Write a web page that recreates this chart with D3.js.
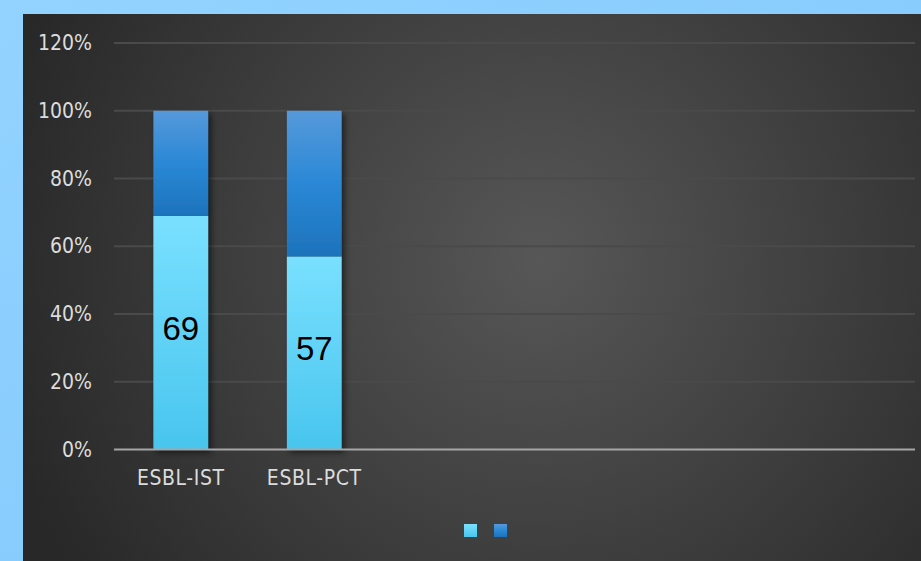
<!DOCTYPE html>
<html>
<head>
<meta charset="utf-8">
<script src="https://cdn.jsdelivr.net/npm/d3@7"></script>
<style>
  html, body { margin: 0; padding: 0; }
  body { width: 921px; height: 561px; overflow: hidden; }
  svg { display: block; }
</style>
</head>
<body>
<svg id="chart"></svg>
<script>
// data
var categories = ["ESBL-IST", "ESBL-PCT", "", "", "", ""];
var series1 = [69, 57, null, null, null, null];   // lower segment (%)
var series2 = [31, 43, null, null, null, null];   // upper segment (%)
var yTicks = [0, 20, 40, 60, 80, 100, 120];

var W = 921, H = 561;
var margin = {top: 43, right: 6, bottom: 111, left: 114};

var svg = d3.select("#chart").attr("width", W).attr("height", H);
var defs = svg.append("defs");

// outer light blue background
var bgOuter = defs.append("linearGradient").attr("id", "bgOuter")
    .attr("x1", 0).attr("y1", 0).attr("x2", 1).attr("y2", 1);
bgOuter.append("stop").attr("offset", 0).attr("stop-color", "#93d3ff");
bgOuter.append("stop").attr("offset", 1).attr("stop-color", "#7cc6fb");

// dark panel radial
var bgPanel = defs.append("radialGradient").attr("id", "bgPanel")
    .attr("gradientUnits", "userSpaceOnUse")
    .attr("cx", 540).attr("cy", 260).attr("r", 560);
bgPanel.append("stop").attr("offset", 0).attr("stop-color", "#575757");
bgPanel.append("stop").attr("offset", 1).attr("stop-color", "#282828");

var gLow = defs.append("linearGradient").attr("id", "gLow")
    .attr("x1", 0).attr("y1", 0).attr("x2", 0).attr("y2", 1);
gLow.append("stop").attr("offset", 0).attr("stop-color", "#7ae0ff");
gLow.append("stop").attr("offset", 1).attr("stop-color", "#48c5ee");

var gHigh = defs.append("linearGradient").attr("id", "gHigh")
    .attr("x1", 0).attr("y1", 0).attr("x2", 0).attr("y2", 1);
gHigh.append("stop").attr("offset", 0).attr("stop-color", "#5699da");
gHigh.append("stop").attr("offset", 0.5).attr("stop-color", "#2a88d6");
gHigh.append("stop").attr("offset", 1).attr("stop-color", "#1d73bb");

var shadow = defs.append("filter").attr("id", "shadow")
    .attr("x", "-30%").attr("y", "-10%").attr("width", "170%").attr("height", "130%");
shadow.append("feDropShadow").attr("dx", 3).attr("dy", 3)
    .attr("stdDeviation", 3).attr("flood-color", "#000").attr("flood-opacity", 0.55);

svg.append("rect").attr("width", W).attr("height", H).attr("fill", "url(#bgOuter)");
svg.append("rect").attr("x", 23).attr("y", 14).attr("width", W - 23).attr("height", H - 14)
    .attr("fill", "url(#bgPanel)");

var x = d3.scaleBand()
    .domain(d3.range(categories.length))
    .range([margin.left, W - margin.right])
    .paddingInner(0.59).paddingOuter(0.295);

var y = d3.scaleLinear().domain([0, 120]).range([449.5, margin.top]);

// gridlines
svg.append("g").selectAll("line")
    .data(yTicks.filter(function(d) { return d > 0; }))
  .enter().append("line")
    .attr("x1", margin.left).attr("x2", W - margin.right)
    .attr("y1", function(d) { return y(d); }).attr("y2", function(d) { return y(d); })
    .attr("stroke", "#4a4a4a").attr("stroke-width", 2);

// y axis labels
var yAxis = d3.axisLeft(y).tickValues(yTicks).tickFormat(function(d) { return d + "%"; })
    .tickSize(0).tickPadding(22);
var ya = svg.append("g").attr("transform", "translate(" + margin.left + ",0)").call(yAxis);
ya.select(".domain").remove();
ya.selectAll("text")
    .attr("fill", "#dcdcdc")
    .style("font-family", "'DejaVu Sans Condensed', 'DejaVu Sans', sans-serif")
    .style("font-size", "21px");

// bars
var bars = svg.append("g").attr("filter", "url(#shadow)");
var idx = d3.range(categories.length).filter(function(i) { return series1[i] != null; });

bars.selectAll("rect.low").data(idx).enter().append("rect")
    .attr("class", "low")
    .attr("x", function(i) { return x(i); })
    .attr("width", x.bandwidth())
    .attr("y", function(i) { return y(series1[i]); })
    .attr("height", function(i) { return y(0) - y(series1[i]); })
    .attr("fill", "url(#gLow)");

bars.selectAll("rect.high").data(idx).enter().append("rect")
    .attr("class", "high")
    .attr("x", function(i) { return x(i); })
    .attr("width", x.bandwidth())
    .attr("y", function(i) { return y(series1[i] + series2[i]); })
    .attr("height", function(i) { return y(series1[i]) - y(series1[i] + series2[i]); })
    .attr("fill", "url(#gHigh)");

// axis line at 0%
svg.append("line")
    .attr("x1", margin.left).attr("x2", W - margin.right)
    .attr("y1", y(0)).attr("y2", y(0))
    .attr("stroke", "#a6a6a6").attr("stroke-width", 2);

// x labels
var xAxis = d3.axisBottom(x).tickFormat(function(i) { return categories[i]; })
    .tickSize(0).tickPadding(21);
var xa = svg.append("g").attr("transform", "translate(0," + y(0) + ")").call(xAxis);
xa.select(".domain").remove();
xa.selectAll("text")
    .attr("fill", "#dcdcdc")
    .style("font-family", "'DejaVu Sans Condensed', 'DejaVu Sans', sans-serif")
    .style("font-size", "21px")
    .style("letter-spacing", "0.6px");

// data labels
svg.append("g").selectAll("text").data(idx).enter().append("text")
    .attr("x", function(i) { return x(i) + x.bandwidth() / 2; })
    .attr("y", function(i) { return y(series1[i] / 2); })
    .attr("dy", "0.22em")
    .attr("text-anchor", "middle")
    .style("font-family", "'Liberation Sans', Arial, sans-serif")
    .style("font-size", "33px")
    .attr("fill", "#000")
    .text(function(i) { return series1[i]; });

// legend
var legendColors = ["url(#gLow)", "url(#gHigh)"];
svg.append("g").selectAll("rect").data(legendColors).enter().append("rect")
    .attr("x", function(d, i) { return 464 + i * 30; })
    .attr("y", 524)
    .attr("width", 13).attr("height", 13)
    .attr("fill", function(d) { return d; });
</script>
</body>
</html>
